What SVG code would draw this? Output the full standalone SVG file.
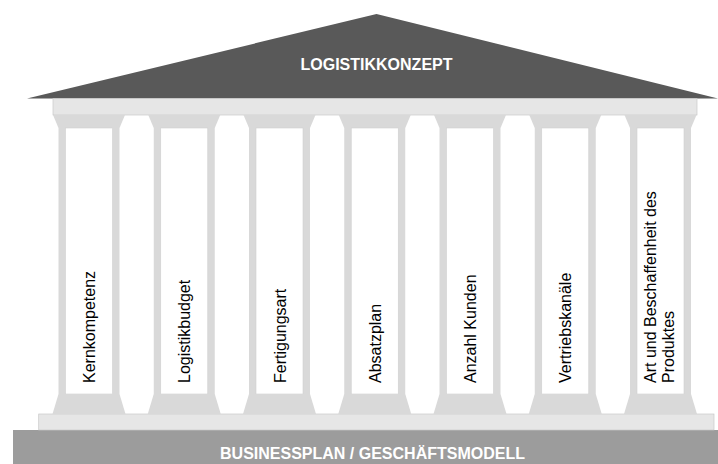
<svg xmlns="http://www.w3.org/2000/svg" width="718" height="464" viewBox="0 0 718 464">
<defs>
<style>
.cap{fill:#d9d9d9}
.shaft{fill:#d9d9d9}
.inner{fill:#ffffff;stroke:#d0d0d0;stroke-width:0.6}
.lbl{font-family:"Liberation Sans",Arial,sans-serif;font-size:16px;fill:#000000}
.title{font-family:"Liberation Sans",Arial,sans-serif;font-size:16px;font-weight:bold;fill:#ffffff;text-anchor:middle}
</style>
<g id="pillar">
<polygon class="cap" points="-36,115 36,115 30.5,128 -30.5,128"/>
<rect class="shaft" x="-30.5" y="128" width="61" height="266"/>
<rect class="inner" x="-23.5" y="128" width="47" height="266"/>
<polygon class="cap" points="-30.5,394 30.5,394 36.5,414 -36.5,414"/>
</g>
</defs>
<g id="base">
<rect x="13" y="430" width="705" height="34" fill="#9c9c9c"/>
<text class="title" x="372.5" y="458.5">BUSINESSPLAN / GESCHÄFTSMODELL</text>
</g>
<g id="stylobate">
<rect x="38.7" y="414" width="675.3" height="16" fill="#e6e6e6" stroke="#c8c8c8" stroke-width="0.7"/>
</g>
<g id="roof">
<polygon points="27,98.5 376.5,14 718,98.5" fill="#595959"/>
<text class="title" x="376.5" y="69.5">LOGISTIKKONZEPT</text>
</g>
<g id="architrave">
<rect x="53" y="98.5" width="644" height="16.5" fill="#e6e6e6" stroke="#c8c8c8" stroke-width="0.7"/>
</g>
<g id="p1"><use href="#pillar" transform="translate(89,0)"/><text class="lbl" transform="translate(95,383) rotate(-90)">Kernkompetenz</text></g>
<g id="p2"><use href="#pillar" transform="translate(184.25,0)"/><text class="lbl" transform="translate(190.25,383) rotate(-90)">Logistikbudget</text></g>
<g id="p3"><use href="#pillar" transform="translate(279.5,0)"/><text class="lbl" transform="translate(285.5,383) rotate(-90)">Fertigungsart</text></g>
<g id="p4"><use href="#pillar" transform="translate(374.75,0)"/><text class="lbl" transform="translate(380.75,383) rotate(-90)">Absatzplan</text></g>
<g id="p5"><use href="#pillar" transform="translate(470,0)"/><text class="lbl" transform="translate(476,383) rotate(-90)">Anzahl Kunden</text></g>
<g id="p6"><use href="#pillar" transform="translate(565.25,0)"/><text class="lbl" transform="translate(571.25,383) rotate(-90)">Vertriebskanäle</text></g>
<g id="p7"><use href="#pillar" transform="translate(660.5,0)"/><text class="lbl" transform="translate(655.5,383) rotate(-90)">Art und Beschaffenheit des</text><text class="lbl" transform="translate(673.5,383) rotate(-90)">Produktes</text></g>
<g id="connectors"></g>
</svg>
